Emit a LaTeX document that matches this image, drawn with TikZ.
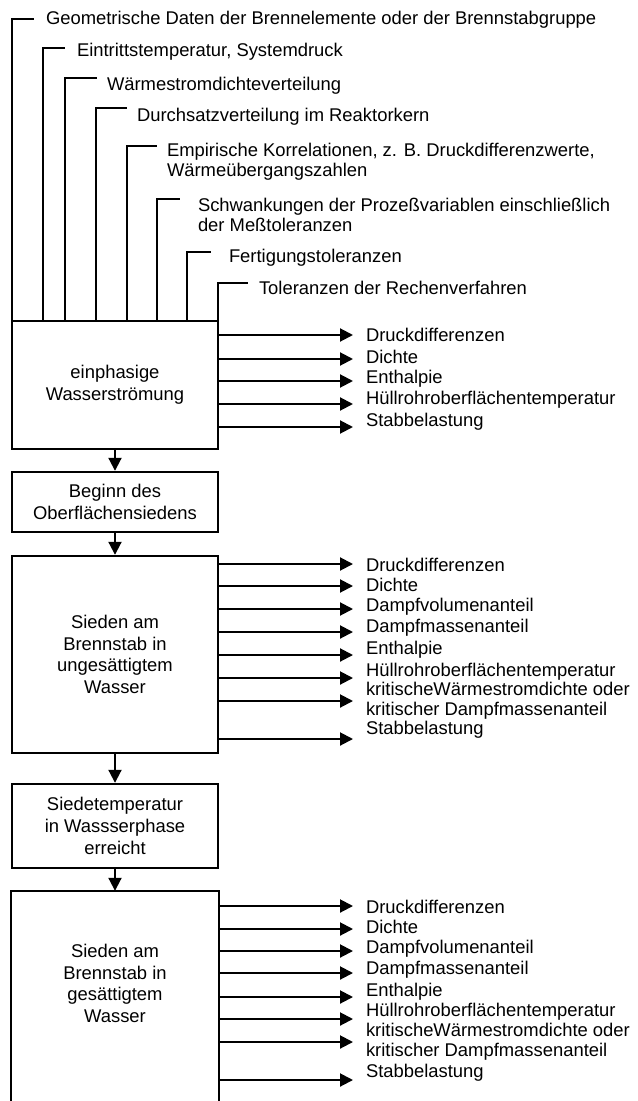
\documentclass[tikz,border=0pt]{standalone}
\usepackage{fontspec}
\setmainfont{Liberation Sans}
\usetikzlibrary{arrows.meta}

\begin{document}
\begin{tikzpicture}[x=0.5pt, y=-0.5pt, line width=1pt,
	font=\fontsize{9.2}{9.8}\selectfont,
	box/.style={draw, line width=1.2pt, minimum width=103pt, align=center, font=\fontsize{9.2}{10.8}\selectfont},
	lbl/.style={anchor=west, inner xsep=6pt, inner ysep=0pt, align=left},
	arr/.style={-{Triangle[length=6.5pt, width=6.5pt]}}]
	\useasboundingbox (0,0) rectangle (637,1101);
	\clip (0,0) rectangle (637,1101);

	% Zustaende
	\node [box, minimum height=64pt]   (einph)  at (115,385)   {einphasige\\Wasserströmung};
	\node [box, minimum height=30pt]   (beginn) at (115,502)   {Beginn des\\Oberflächensiedens};
	\node [box, minimum height=98.5pt] (unges)  at (115,654.5) {Sieden am\\Brennstab in\\ungesättigtem\\Wasser};
	\node [box, minimum height=42pt]   (siedet) at (115,826)   {Siedetemperatur\\in Wassserphase\\erreicht};
	\node [box, draw=none, minimum height=91.5pt] (ges) at (115,983.5) {Sieden am\\Brennstab in\\gesättigtem\\Wasser};
	\draw [line width=1.2pt] ([yshift=-40pt]ges.south west) |- (ges.north east) -- ([yshift=-40pt]ges.south east);

	\draw [arr] (einph)  -- (beginn);
	\draw [arr] (beginn) -- (unges);
	\draw [arr] (unges)  -- (siedet);
	\draw [arr] (siedet) -- (ges.north);

	% Eingangsgroessen
	\foreach \x/\yt/\xe/\xt/\yc/\txt [count=\i] in {
		12/19/34/45/20/{Geometrische Daten der Brennelemente oder der Brennstabgruppe},
		43/48/65/76/52/{Eintrittstemperatur, Systemdruck},
		65/78/97/106/86/{Wärmestromdichteverteilung},
		96/108/127/136/117/{Durchsatzverteilung im Reaktorkern},
		127/146/157/166/162/{Empirische Korrelationen, z. B. Druckdifferenzwerte,\\Wärmeübergangszahlen},
		157/199/180/197/215/{Schwankungen der Prozeßvariablen einschließlich\\der Meßtoleranzen},
		187/252/211/228/258/{Fertigungstoleranzen},
		218/283/248/258/288/{Toleranzen der Rechenverfahren}}
	{
		\node [lbl, inner xsep=0pt] (in\i) at (\xt,\yc) {\txt};
		\coordinate (t\i) at (\xe,\yt);
		\draw (einph.north -| \x,0) |- (t\i);
	}

	% Ergebnisse
	\foreach \ya/\yt/\txt [count=\i] in {
		335/335/Druckdifferenzen, 359/357/Dichte, 381/379/Enthalpie,
		404/400/Hüllrohroberflächentemperatur, 427/422/Stabbelastung}
	{
		\node [lbl] (a\i) at (353,\yt) {\txt};
		\draw [arr] (einph.east |- 0,\ya) -- (a\i.west |- 0,\ya);
	}
	\foreach \ya/\yt/\txt [count=\i] in {
		564/565/Druckdifferenzen, 586/585/Dichte, 609/607/Dampfvolumenanteil,
		632/628/Dampfmassenanteil, 655/650/Enthalpie, 678/672/Hüllrohroberflächentemperatur,
		701/701/{kritischeWärmestromdichte oder\\kritischer Dampfmassenanteil}, 739/730/Stabbelastung}
	{
		\node [lbl] (b\i) at (353,\yt) {\txt};
		\draw [arr] (unges.east |- 0,\ya) -- (b\i.west |- 0,\ya);
	}
	\foreach \ya/\yt/\txt [count=\i] in {
		906/907/Druckdifferenzen, 929/927/Dichte, 951/949/Dampfvolumenanteil,
		973/970/Dampfmassenanteil, 997/992/Enthalpie, 1019/1012/Hüllrohroberflächentemperatur,
		1042/1042/{kritischeWärmestromdichte oder\\kritischer Dampfmassenanteil}, 1080/1073/Stabbelastung}
	{
		\node [lbl] (c\i) at (353,\yt) {\txt};
		\draw [arr] (ges.east |- 0,\ya) -- (c\i.west |- 0,\ya);
	}
\end{tikzpicture}
\end{document}
